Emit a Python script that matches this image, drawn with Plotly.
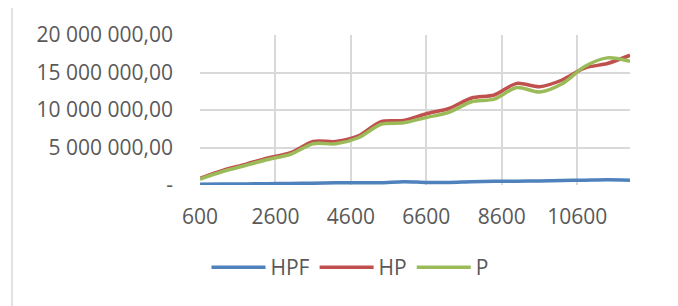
import plotly.graph_objects as go

x_values = [600, 1200, 1800, 2400, 3000, 3600, 4200, 4800, 5400, 6000,
            6600, 7200, 7800, 8400, 9000, 9600, 10200, 10800, 11400, 12000]

hpf = [0.10, 0.12, 0.15, 0.18, 0.20, 0.25, 0.30, 0.30, 0.30, 0.45,
       0.35, 0.35, 0.45, 0.50, 0.50, 0.55, 0.60, 0.65, 0.70, 0.65]
hp = [0.90, 1.95, 2.75, 3.60, 4.30, 5.80, 5.80, 6.55, 8.45, 8.60,
      9.50, 10.20, 11.60, 12.00, 13.55, 13.10, 14.00, 15.60, 16.20, 17.30]
p = [0.80, 1.80, 2.60, 3.40, 4.10, 5.50, 5.50, 6.30, 8.10, 8.30,
     9.00, 9.70, 11.10, 11.45, 13.00, 12.40, 13.50, 15.80, 16.95, 16.50]

series_names = ["HPF", "HP", "P"]
series_values = [hpf, hp, p]
series_colors = ["#4F81BD", "#C0504D", "#9BBB59"]

y_tick_values = [0, 5_000_000, 10_000_000, 15_000_000, 20_000_000]
y_tick_labels = ["-", "5 000 000,00", "10 000 000,00", "15 000 000,00", "20 000 000,00"]
x_tick_values = [600, 2600, 4600, 6600, 8600, 10600]
x_tick_labels = ["600", "2600", "4600", "6600", "8600", "10600"]

# page body has an 8px margin; figure is sized so that it fills the window
OFF = 8
W, H = 670, 298
# desired plot area in window pixels
PL, PR, PT, PB = 200, 630, 32, 185.5
L = PL - OFF
R = W - (PR - OFF)
T = PT - OFF
B = H - (PB - OFF)
pw = W - L - R
ph = H - T - B

def px_to_paper_x(px):
    return (px - OFF - L) / pw

def px_to_paper_y(py):
    return (H - B - (py - OFF)) / ph

fig = go.Figure()
for name, vals, col in zip(series_names, series_values, series_colors):
    fig.add_trace(go.Scatter(
        x=x_values, y=[v * 1_000_000 for v in vals], name=name, mode="lines",
        line=dict(color=col, width=3.5, shape="spline", smoothing=0.8),
    ))

font = dict(family="Open Sans, sans-serif", size=21, color="#595959")

fig.update_layout(
    width=W, height=H,
    margin=dict(l=L, r=R, t=T, b=B, pad=0),
    paper_bgcolor="white", plot_bgcolor="white",
    font=font,
    showlegend=True,
    legend=dict(
        orientation="h", x=px_to_paper_x(350), xanchor="center",
        y=px_to_paper_y(270), yanchor="middle",
        font=font, bgcolor="rgba(0,0,0,0)", itemwidth=54,
    ),
    xaxis=dict(
        range=[600, 12000], tickvals=x_tick_values, ticktext=x_tick_labels,
        showgrid=True, gridcolor="#D9D9D9", gridwidth=1.5,
        zeroline=False, showline=False, ticks="",
        ticklabelstandoff=17, tickfont=font,
    ),
    yaxis=dict(
        range=[0, 20_000_000], tickvals=y_tick_values, ticktext=y_tick_labels,
        showgrid=True, gridcolor="#D9D9D9", gridwidth=1.5,
        zeroline=False, showline=False, ticks="",
        ticklabelstandoff=26, tickfont=font,
    ),
    shapes=[dict(
        type="rect", xref="paper", yref="paper",
        x0=px_to_paper_x(12), x1=px_to_paper_x(720),
        y0=px_to_paper_y(340), y1=px_to_paper_y(3),
        line=dict(color="#D9D9D9", width=1.5), fillcolor="rgba(0,0,0,0)",
        layer="below",
    )],
)

fig.write_html("out.html")
